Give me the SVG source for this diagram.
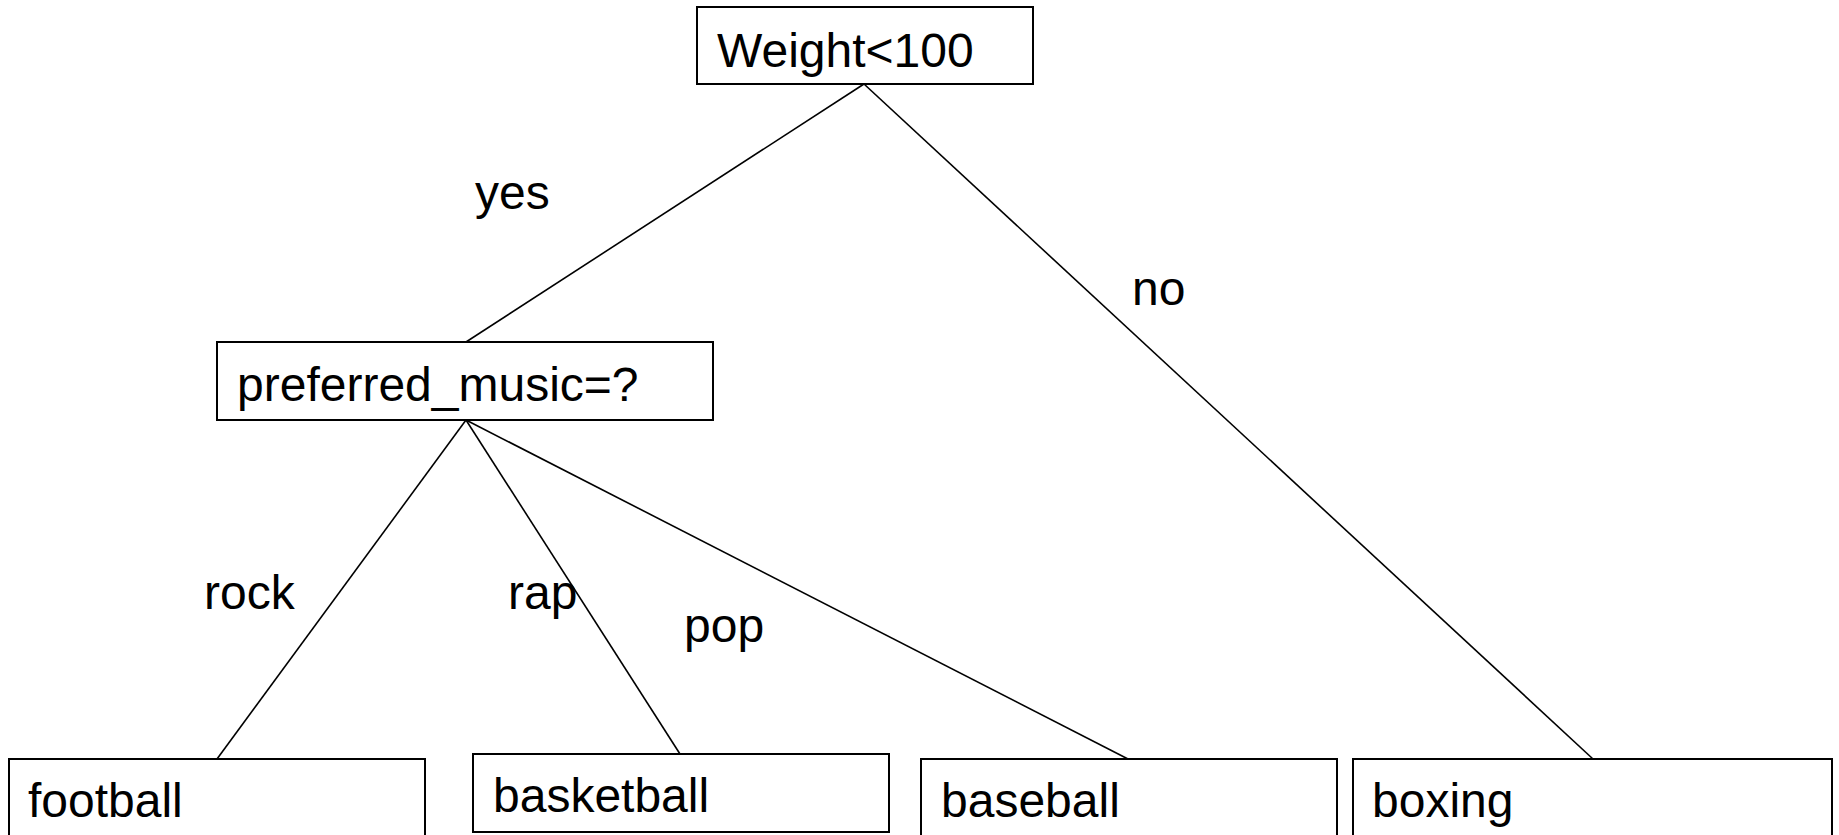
<svg xmlns="http://www.w3.org/2000/svg" width="1839" height="835" viewBox="0 0 1839 835">
<style>
.box{fill:#fff;stroke:#000;stroke-width:2}
.t{font-family:"Liberation Sans",Arial,sans-serif;font-size:48px;fill:#000}
.e{stroke:#000;stroke-width:1.6;fill:none}
</style>
<rect width="1839" height="835" fill="#fff"/>
<g id="connectors">
<line class="e" x1="864" y1="84" x2="466" y2="342"/>
<line class="e" x1="864" y1="84" x2="1593" y2="759"/>
<line class="e" x1="466" y1="420" x2="217" y2="759"/>
<line class="e" x1="466" y1="420" x2="680" y2="754"/>
<line class="e" x1="466" y1="420" x2="1128" y2="759"/>
<text class="t" x="475" y="209">yes</text>
<text class="t" x="1132" y="305">no</text>
<text class="t" x="204" y="609">rock</text>
<text class="t" x="508" y="609">rap</text>
<text class="t" x="684" y="642">pop</text>
</g>
<g id="root"><rect class="box" x="697" y="7" width="336" height="77"/><text class="t" x="717" y="67">Weight&lt;100</text></g>
<g id="music"><rect class="box" x="217" y="342" width="496" height="78"/><text class="t" x="237" y="401">preferred_music=?</text></g>
<g id="football"><rect class="box" x="9" y="759" width="416" height="80"/><text class="t" x="28" y="817">football</text></g>
<g id="basketball"><rect class="box" x="473" y="754" width="416" height="78"/><text class="t" x="493" y="812">basketball</text></g>
<g id="baseball"><rect class="box" x="921" y="759" width="416" height="80"/><text class="t" x="941" y="817">baseball</text></g>
<g id="boxing"><rect class="box" x="1353" y="759" width="479" height="80"/><text class="t" x="1372" y="817">boxing</text></g>
</svg>
